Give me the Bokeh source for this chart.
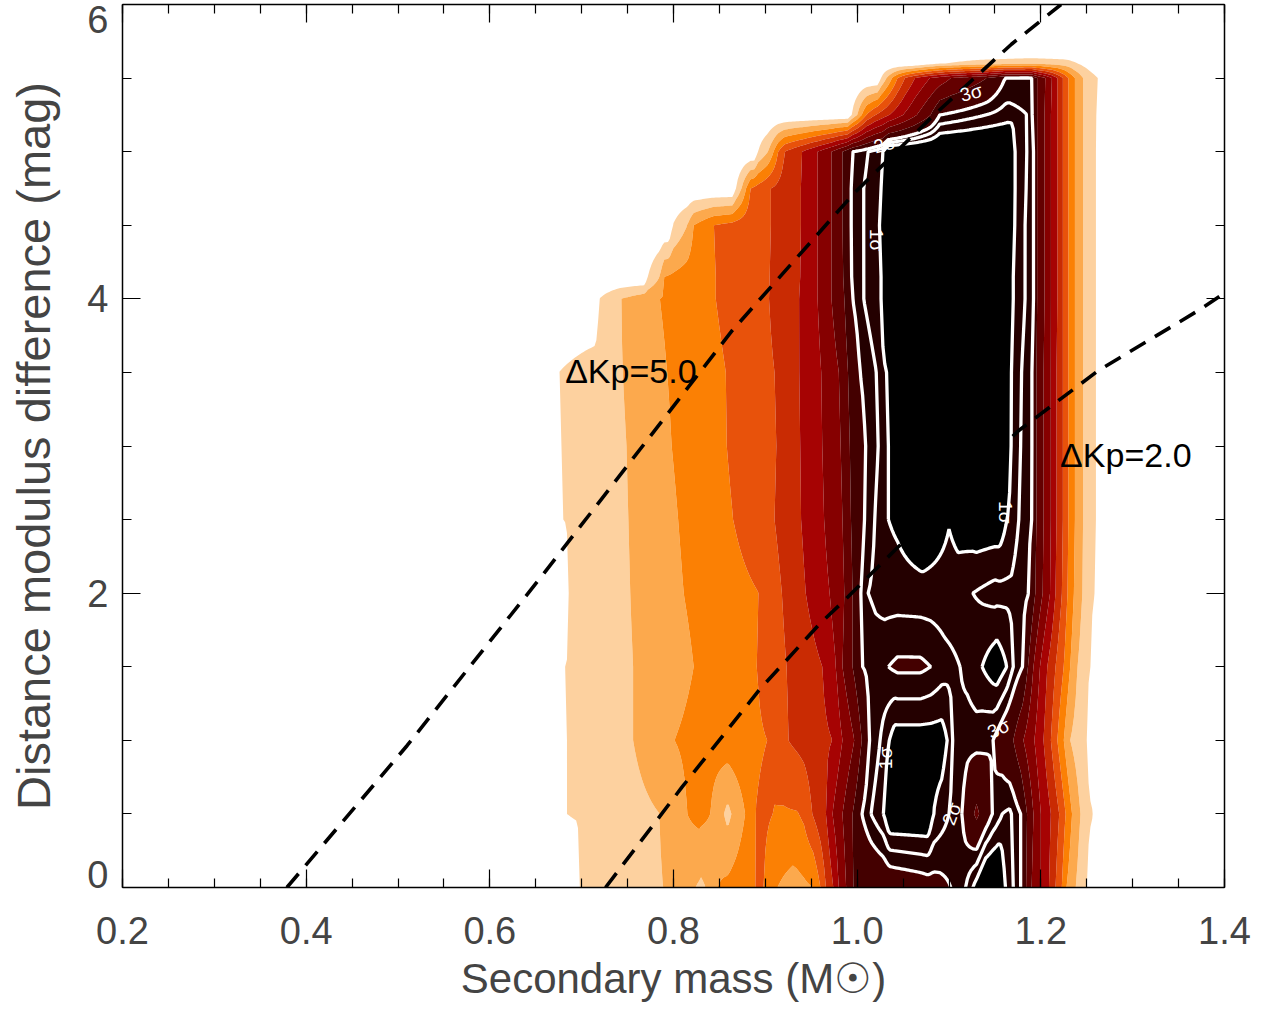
import numpy as np
from bokeh.plotting import figure
from bokeh.models import (Range1d, LinearAxis, FixedTicker, NumeralTickFormatter,
                          CustomJSTickFormatter)
from bokeh.embed import file_html
from bokeh.resources import INLINE
from bokeh.core.properties import value

# ---------------- data ----------------
# rows of the likelihood grid (distance modulus difference, mag)
row_y = [0.0, 0.5, 1.0, 1.5, 2.0, 2.5, 3.0, 3.5, 4.0, 4.15, 4.5, 4.75, 5.0, 5.25, 5.5, 5.6, 5.68]

# knots (secondary mass, contour level index) along each row
row_knots = [
    # y = 0.0
    [(0.694, 0), (0.698, 1), (0.789, 2), (0.812, 2.4), (0.824, 2.0), (0.830, 1.8), (0.835, 2.0), (0.842, 2.5),
     (0.848, 3), (0.870, 3.5), (0.889, 4), (0.894, 4.1), (0.898, 4), (0.905, 3.3), (0.913, 3), (0.930, 2.6),
     (0.952, 3), (0.956, 3.5), (0.960, 4), (0.966, 5), (0.974, 6), (0.980, 7), (0.988, 8), (0.995, 9),
     (1.040, 9.4), (1.070, 9.6), (1.090, 9.8), (1.102, 10), (1.118, 10.5), (1.126, 11), (1.140, 12), (1.155, 12),
     (1.161, 11), (1.170, 10.5), (1.178, 10), (1.184, 9), (1.190, 8), (1.200, 7), (1.209, 6), (1.216, 5),
     (1.223, 4), (1.228, 3), (1.238, 2), (1.250, 1), (1.254, 0)],
    # y = 0.5
    [(0.680, 0), (0.684, 1), (0.785, 2), (0.815, 3), (0.828, 3.3), (0.840, 3), (0.855, 2), (0.859, 1.7),
     (0.863, 2), (0.878, 3), (0.884, 3.5), (0.889, 4), (0.900, 4.2), (0.910, 3.95), (0.920, 3.9), (0.935, 3.95),
     (0.942, 4.2), (0.951, 5), (0.966, 6), (0.973, 7), (0.984, 8), (0.995, 9), (1.005, 10), (1.015, 10.5),
     (1.029, 11), (1.035, 11.6), (1.077, 11.6), (1.083, 11), (1.100, 10.5), (1.114, 10), (1.130, 8.8),
     (1.147, 10), (1.158, 10.5), (1.166, 10.6), (1.178, 10), (1.185, 9), (1.192, 8), (1.200, 7), (1.211, 6),
     (1.220, 5), (1.227, 4), (1.234, 3), (1.243, 2), (1.257, 1), (1.261, 0)],
    # y = 1.0
    [(0.680, 0), (0.684, 1), (0.756, 2), (0.801, 3), (0.902, 4), (0.925, 5), (0.973, 6), (0.984, 7),
     (0.997, 8), (1.005, 9), (1.013, 10), (1.025, 10.5), (1.035, 11), (1.041, 11.3), (1.092, 11.3),
     (1.098, 11), (1.104, 10.5), (1.120, 10.2), (1.130, 10.25), (1.148, 10), (1.170, 9), (1.181, 8),
     (1.193, 7), (1.203, 6), (1.211, 5), (1.218, 4), (1.225, 3), (1.232, 2), (1.250, 1), (1.254, 0)],
    # y = 1.5
    [(0.678, 0), (0.682, 1), (0.756, 2), (0.822, 3), (0.891, 4), (0.923, 5), (0.962, 6), (0.977, 7),
     (0.984, 8), (0.995, 9), (1.006, 10), (1.020, 10.2), (1.034, 10.0), (1.044, 9.88), (1.069, 9.88),
     (1.080, 10.0), (1.095, 10.3), (1.112, 10.5), (1.125, 10.8), (1.136, 11), (1.152, 11.4), (1.163, 11),
     (1.170, 10.5), (1.180, 10), (1.186, 9), (1.192, 8), (1.199, 7), (1.207, 6), (1.216, 5), (1.225, 4),
     (1.232, 3), (1.240, 2), (1.254, 1), (1.258, 0)],
    # y = 2.0
    [(0.681, 0), (0.685, 1), (0.753, 2), (0.811, 3), (0.893, 4), (0.918, 5), (0.944, 6), (0.970, 7),
     (0.986, 8), (0.995, 9), (1.004, 10), (1.012, 10.5), (1.030, 10.75), (1.070, 10.8), (1.110, 10.8),
     (1.126, 10.5), (1.150, 10.3), (1.168, 10.4), (1.180, 10.2), (1.187, 10), (1.194, 9), (1.202, 8),
     (1.210, 7), (1.216, 6), (1.223, 5), (1.229, 4), (1.236, 3), (1.245, 2), (1.259, 1), (1.263, 0)],
    # y = 2.5
    [(0.676, 0), (0.680, 1), (0.751, 2), (0.805, 3), (0.865, 4), (0.910, 5), (0.939, 6), (0.964, 7),
     (0.984, 8), (0.993, 9), (1.008, 10), (1.019, 10.5), (1.034, 11), (1.044, 11.1), (1.071, 11.5),
     (1.100, 11.03), (1.130, 11.43), (1.155, 11.4), (1.163, 11), (1.176, 10.5), (1.190, 10),
     (1.195, 9), (1.203, 8), (1.211, 7), (1.217, 6), (1.224, 5), (1.230, 4), (1.237, 3), (1.246, 2),
     (1.260, 1), (1.264, 0)],
    # y = 3.0
    [(0.674, 0), (0.678, 1), (0.749, 2), (0.798, 3), (0.858, 4), (0.912, 5), (0.938, 6), (0.962, 7),
     (0.982, 8), (0.992, 9), (1.009, 10), (1.023, 10.5), (1.034, 11), (1.040, 12), (1.162, 12), (1.167, 11),
     (1.178, 10.5), (1.191, 10), (1.195, 9), (1.203, 8), (1.211, 7), (1.217, 6), (1.224, 5), (1.230, 4),
     (1.237, 3), (1.246, 2), (1.260, 1), (1.264, 0)],
    # y = 3.5
    [(0.671, 0), (0.675, 1), (0.745, 2), (0.793, 3), (0.857, 4), (0.910, 5), (0.937, 6), (0.961, 7),
     (0.980, 8), (0.990, 9), (1.003, 10), (1.021, 10.5), (1.032, 11), (1.038, 12), (1.163, 12), (1.168, 11),
     (1.179, 10.5), (1.191, 10), (1.195, 9), (1.203, 8), (1.211, 7), (1.217, 6), (1.224, 5), (1.230, 4),
     (1.237, 3), (1.246, 2), (1.260, 1), (1.264, 0)],
    # y = 4.0
    [(0.715, 0), (0.719, 1), (0.743, 2), (0.785, 3), (0.846, 4), (0.904, 5), (0.937, 6), (0.957, 7),
     (0.972, 8), (0.986, 9), (0.995, 10), (1.007, 10.5), (1.026, 11), (1.032, 12), (1.164, 12), (1.170, 11),
     (1.183, 10.5), (1.192, 10), (1.196, 9), (1.204, 8), (1.211, 7), (1.218, 6), (1.224, 5), (1.230, 4),
     (1.237, 3), (1.246, 2), (1.260, 1), (1.264, 0)],
    # y = 4.15
    [(0.768, 0), (0.772, 1), (0.785, 2), (0.790, 3), (0.846, 4), (0.905, 5), (0.938, 6), (0.957, 7),
     (0.972, 8), (0.985, 9), (0.994, 10), (1.007, 10.5), (1.026, 11), (1.032, 12), (1.164, 12), (1.170, 11),
     (1.183, 10.5), (1.192, 10), (1.196, 9), (1.204, 8), (1.211, 7), (1.218, 6), (1.224, 5), (1.230, 4),
     (1.237, 3), (1.246, 2), (1.260, 1), (1.264, 0)],
    # y = 4.5
    [(0.795, 0), (0.799, 1), (0.815, 2), (0.822, 3), (0.844, 4), (0.906, 5), (0.939, 6), (0.957, 7),
     (0.972, 8), (0.984, 9), (0.993, 10), (1.007, 10.5), (1.025, 11), (1.031, 12), (1.165, 12), (1.171, 11),
     (1.183, 10.5), (1.192, 10), (1.196, 9), (1.204, 8), (1.211, 7), (1.218, 6), (1.224, 5), (1.230, 4),
     (1.237, 3), (1.246, 2), (1.260, 1), (1.264, 0)],
    # y = 4.75
    [(0.864, 0), (0.868, 1), (0.874, 2), (0.879, 3), (0.884, 4), (0.906, 5), (0.939, 6), (0.957, 7),
     (0.972, 8), (0.984, 9), (0.993, 10), (1.007, 10.5), (1.026, 11), (1.032, 12), (1.167, 12), (1.172, 11),
     (1.184, 10.5), (1.192, 10), (1.196, 9), (1.204, 8), (1.211, 7), (1.218, 6), (1.224, 5), (1.230, 4),
     (1.237, 3), (1.246, 2), (1.260, 1), (1.264, 0)],
    # y = 5.0
    [(0.888, 0), (0.892, 1), (0.903, 2), (0.909, 3), (0.914, 4), (0.921, 5), (0.940, 6), (0.957, 7),
     (0.972, 8), (0.984, 9), (0.995, 10), (1.012, 10.5), (1.028, 11), (1.034, 12), (1.168, 12), (1.172, 11),
     (1.185, 10.5), (1.192, 10), (1.196, 9), (1.204, 8), (1.211, 7), (1.218, 6), (1.224, 5), (1.230, 4),
     (1.237, 3), (1.246, 2), (1.260, 1), (1.264, 0)],
    # y = 5.25
    [(0.990, 0), (0.994, 1), (1.000, 2), (1.005, 3), (1.010, 4), (1.020, 5), (1.035, 6), (1.050, 7),
     (1.065, 8), (1.080, 9), (1.090, 10), (1.140, 10.5), (1.165, 10.75), (1.185, 10.5), (1.191, 10),
     (1.196, 9), (1.204, 8), (1.211, 7), (1.218, 6), (1.224, 5), (1.230, 4), (1.237, 3), (1.246, 2),
     (1.261, 1), (1.265, 0)],
    # y = 5.5
    [(1.022, 0), (1.026, 1), (1.032, 2), (1.038, 3), (1.044, 4), (1.052, 5), (1.063, 6), (1.079, 7),
     (1.102, 8), (1.141, 9), (1.161, 10), (1.185, 10.05), (1.190, 10), (1.196, 9), (1.205, 8), (1.212, 7),
     (1.218, 6), (1.224, 5), (1.230, 4), (1.237, 3), (1.246, 2), (1.262, 1), (1.266, 0)],
    # y = 5.6
    [(1.060, 0), (1.090, 0.9), (1.130, 1.4), (1.190, 1.8), (1.227, 1.5), (1.250, 0.6), (1.262, 0)],
    # y = 5.68
    [(1.000, 0), (1.300, 0)],
]

fill_levels = [1, 2, 3, 4, 5, 6, 7, 8, 9, 10, 11, 13]
fill_colors = ["#FDD19F", "#FCA94D", "#FB8004", "#E8520B", "#C92B03", "#A60303",
               "#860000", "#640000", "#440000", "#240000", "#000000"]
sigma_levels = [10, 10.5, 11]          # 3 sigma, 2 sigma, 1 sigma

sigma_text = ["3σ", "2σ", "1σ", "1σ", "1σ", "2σ", "3σ"]
sigma_x = [1.124, 1.030, 1.021, 1.161, 1.031, 1.103, 1.154]
sigma_y = [5.40, 5.05, 4.40, 2.55, 0.88, 0.50, 1.08]
sigma_angle_deg = [15, 15, -90, -90, 90, 70, 25]

# iso-Delta-Kp curves
kp5_x = [0.379, 0.510, 0.657, 0.864, 0.997, 1.083, 1.168, 1.207, 1.222]
kp5_y = [0.0, 0.965, 2.12, 3.785, 4.72, 5.245, 5.73, 5.925, 6.0]
kp2_x = [0.726, 0.809, 0.893, 0.959, 0.986, 1.044, 1.176, 1.262, 1.374, 1.400]
kp2_y = [0.0, 0.68, 1.34, 1.79, 1.95, 2.31, 3.105, 3.51, 3.93, 4.04]
kp_text = ["ΔKp=5.0", "ΔKp=2.0"]
kp_text_x = [0.682, 1.221]
kp_text_y = [3.51, 2.94]

x_major = [0.2, 0.4, 0.6, 0.8, 1.0, 1.2, 1.4]
x_minor = [round(0.2 + 0.05 * i, 2) for i in range(25)]
y_major = [0, 2, 4, 6]
y_minor = [0.5 * i for i in range(13)]
# y tick labels: the end labels sit just inside the axis ends, as in the original
y_label_pos = [0.088, 2, 4, 5.898]

# ---------------- build grid ----------------
xg = np.arange(0.600, 1.3201, 0.002)
Z = np.array([np.interp(xg, [k[0] for k in r], [k[1] for k in r], left=0.0, right=0.0)
              for r in row_knots])

FONT = "Liberation Sans"

p = figure(frame_width=1102, frame_height=883,
           x_range=Range1d(0.2, 1.4), y_range=Range1d(0, 6),
           output_backend="svg", toolbar_location=None,
           min_border_left=122, min_border_right=40, min_border_top=4, min_border_bottom=100)
p.grid.visible = False
p.outline_line_color = None
p.background_fill_color = "white"

p.contour(xg, row_y, Z, fill_levels, fill_color=fill_colors, line_color=None)
p.contour(xg, row_y, Z, sigma_levels, line_color="white", line_width=3.3)

p.line(kp5_x, kp5_y, line_color="black", line_width=3.6, line_dash="18 11")
p.line(kp2_x, kp2_y, line_color="black", line_width=3.6, line_dash="18 11")

p.text(x=kp_text_x, y=kp_text_y, text=kp_text, text_font=value(FONT),
       text_font_size="34px", text_color="black", text_align="left", text_baseline="alphabetic")

p.text(x=sigma_x, y=sigma_y, text=sigma_text, angle=[np.deg2rad(a) for a in sigma_angle_deg],
       text_font=value(FONT), text_font_size="19px", text_color="white",
       text_align="center", text_baseline="middle")

# ---------------- axes ----------------
blank = CustomJSTickFormatter(code="return '';")

def style_axis(ax, ticks, minor, labels=True):
    ax.ticker = FixedTicker(ticks=ticks, minor_ticks=minor)
    ax.axis_line_color = "black"
    ax.axis_line_width = 1.5
    ax.major_tick_in = 18
    ax.major_tick_out = 0
    ax.minor_tick_in = 9
    ax.minor_tick_out = 0
    ax.major_tick_line_color = "black"
    ax.minor_tick_line_color = "black"
    ax.major_tick_line_width = 1.2
    ax.minor_tick_line_width = 1.2
    if not labels:
        ax.formatter = blank
        ax.major_label_standoff = 0
        ax.axis_label_standoff = 0

xb = p.xaxis[0]
style_axis(xb, x_major, x_minor)
xb.formatter = NumeralTickFormatter(format="0.0")
xb.major_label_text_font = FONT
xb.major_label_text_font_size = "38px"
xb.major_label_standoff = 29
xb.axis_label = "Secondary mass (M☉)"
xb.axis_label_text_font = FONT
xb.axis_label_text_font_size = "42px"
xb.axis_label_text_font_style = "normal"
xb.axis_label_standoff = 8

# left: one axis for the frame line and ticks, one for the labels
yl = p.yaxis[0]
style_axis(yl, [2, 4], y_minor, labels=False)

ylab = LinearAxis(ticker=FixedTicker(ticks=y_label_pos, minor_ticks=[]),
                  formatter=CustomJSTickFormatter(
                      code="if (tick < 1) { return '0'; } if (tick > 5) { return '6'; } return tick.toFixed(0);"))
ylab.axis_line_color = None
ylab.major_tick_line_color = None
ylab.minor_tick_line_color = None
ylab.major_tick_out = 0
ylab.major_tick_in = 0
ylab.major_label_text_font = FONT
ylab.major_label_text_font_size = "38px"
ylab.major_label_standoff = 14
ylab.axis_label = "Distance modulus difference (mag)"
ylab.axis_label_text_font = FONT
ylab.axis_label_text_font_size = "47px"
ylab.axis_label_text_font_style = "normal"
ylab.axis_label_standoff = 24
p.add_layout(ylab, "left")

xt = LinearAxis()
style_axis(xt, x_major, x_minor, labels=False)
p.add_layout(xt, "above")
yr = LinearAxis()
style_axis(yr, y_major, y_minor, labels=False)
p.add_layout(yr, "right")

open("out.html", "w").write(file_html(p, INLINE))
